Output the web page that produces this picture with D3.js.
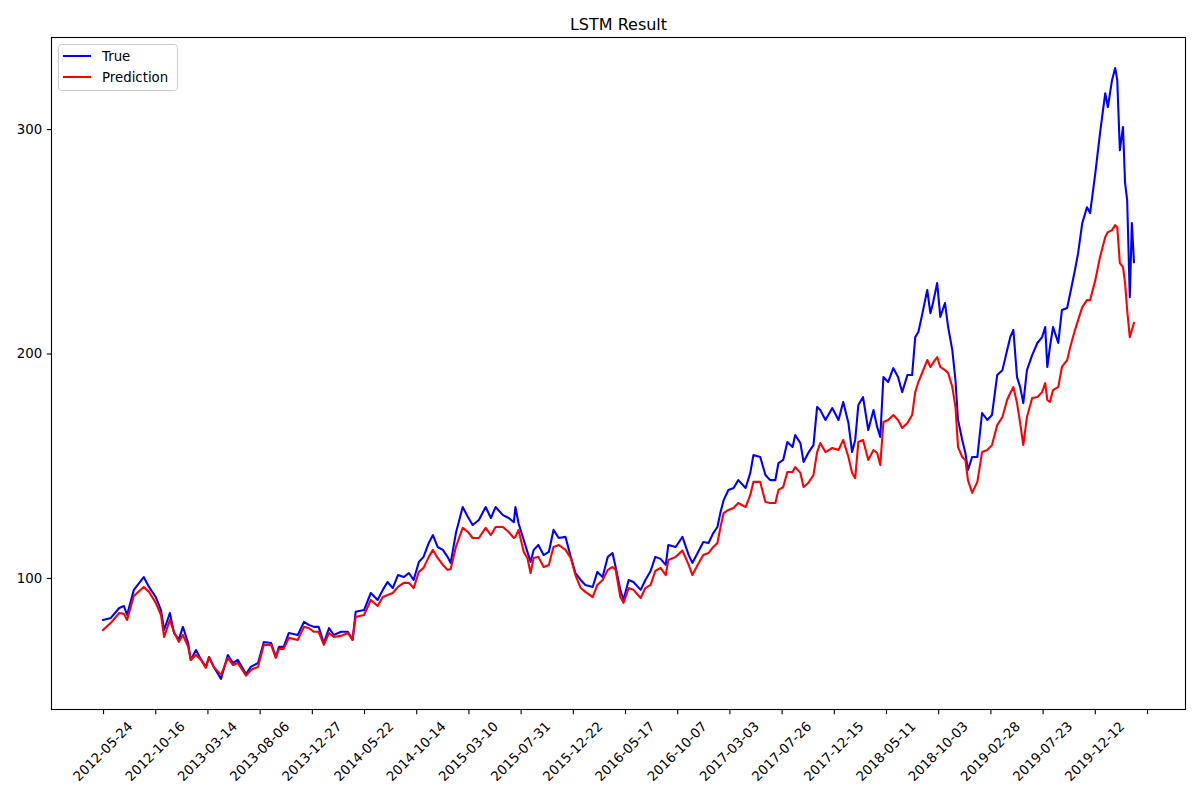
<!DOCTYPE html>
<html>
<head>
<meta charset="utf-8">
<script src="https://cdn.jsdelivr.net/npm/d3@7"></script>
<style>
  html, body { margin: 0; padding: 0; background: #fff; }
  svg { display: block; font-family: "DejaVu Sans", sans-serif; }
</style>
</head>
<body>
<svg id="chart" width="1200" height="800"></svg>
<script>
// ---- data (trading-day index) ----
const dayIndex = [0,15,31,40,46,59,78,88,101,111,117,128,136,145,153,163,168,178,188,197,203,212,226,239,249,258,274,283,297,308,322,331,337,346,356,373,385,394,404,413,423,433,442,456,469,478,484,500,513,526,536,545,555,565,576,586,595,605,614,624,632,641,651,660,666,676,689,699,708,720,733,743,752,766,777,787,790,796,806,813,819,825,834,844,854,863,873,886,896,905,915,924,938,947,957,967,976,982,991,997,1007,1016,1030,1039,1049,1058,1068,1078,1083,1097,1110,1122,1129,1139,1150,1160,1169,1177,1183,1189,1198,1208,1217,1231,1240,1246,1259,1269,1278,1288,1294,1303,1311,1321,1326,1336,1342,1351,1361,1368,1374,1384,1397,1409,1418,1428,1435,1441,1447,1456,1466,1476,1483,1489,1495,1504,1514,1523,1531,1541,1550,1556,1562,1569,1579,1585,1590,1598,1604,1613,1619,1627,1633,1638,1646,1652,1657,1665,1675,1684,1694,1703,1713,1723,1732,1738,1744,1751,1757,1763,1770,1780,1790,1799,1805,1809,1814,1820,1830,1837,1847,1853,1862,1868,1876,1885,1891,1901,1910,1920,1925,1933,1939,1943,1948,1954,1958,1962,1967,1971,1975];

const trueValues = [81.3,82.2,86.6,87.5,83.5,94.7,100.4,96.0,91.5,85.7,76.8,84.4,75.5,72.4,78.2,71.0,63.5,67.9,63.5,60.4,64.8,60.4,55.0,65.7,62.1,63.5,57.2,60.4,62.1,71.5,71.0,64.8,69.3,69.3,75.5,74.6,80.4,79.1,78.2,78.2,71.0,77.7,74.6,76.0,76.0,72.4,84.9,85.7,93.3,90.2,94.7,98.2,95.5,101.3,100.4,102.2,99.1,107.1,109.4,115.6,119.1,113.8,112.5,109.4,106.7,120.0,131.6,127.2,123.6,125.8,131.6,126.7,131.6,128.0,126.7,124.9,131.6,124.4,116.9,111.6,107.1,112.5,114.7,110.2,111.6,121.4,117.8,118.3,109.4,102.2,99.1,96.9,96.0,102.7,100.4,109.4,111.1,104.9,94.7,90.2,99.1,98.2,94.7,99.1,103.1,109.4,108.5,105.8,114.7,113.8,118.3,110.2,106.7,111.1,116.0,115.6,120.0,122.7,129.4,134.7,139.2,140.1,143.6,140.1,146.8,154.8,153.9,145.9,143.6,143.6,151.2,152.6,160.6,158.3,163.7,160.1,151.7,155.7,159.2,176.2,174.8,170.4,175.7,170.4,178.4,169.0,156.1,161.5,177.1,180.6,165.9,174.8,167.3,162.8,189.5,187.3,193.5,189.5,182.8,190.4,190.4,207.3,209.6,217.1,228.3,218.0,222.5,231.4,216.3,222.5,211.8,201.5,188.2,170.4,161.5,155.7,148.1,153.9,153.9,173.5,170.4,172.6,190.4,192.6,201.5,207.3,210.5,189.5,185.1,177.9,192.6,199.3,204.7,207.3,211.8,194.0,202.9,211.8,204.7,219.4,220.3,227.0,237.2,244.7,258.1,265.2,262.6,280.4,298.2,316.0,309.8,321.8,327.2,321.8,290.6,300.9,275.9,268.3,225.1,258.1,240.7];

const predValues = [76.8,80.0,84.4,84.0,81.3,92.0,96.0,93.8,88.9,83.5,73.7,81.3,76.0,71.5,74.6,69.3,63.5,65.7,63.5,59.9,64.8,60.4,56.8,64.4,61.2,62.1,56.5,59.0,60.4,70.2,70.2,64.4,68.4,68.4,73.3,72.4,78.2,77.7,76.0,76.0,70.2,75.5,73.7,74.2,75.5,72.4,82.6,83.5,90.2,87.5,91.5,92.4,93.3,96.0,97.8,97.8,95.5,102.7,104.5,109.4,112.5,108.9,105.8,103.6,104.0,113.8,122.3,120.5,117.8,117.8,122.3,119.1,122.7,122.7,120.5,117.8,118.3,121.4,111.6,108.9,102.2,108.9,109.4,104.9,105.8,113.8,114.7,112.5,108.9,101.3,95.5,93.8,91.5,96.9,99.1,103.6,104.9,103.6,91.5,88.9,95.5,94.7,91.1,95.5,96.9,103.1,104.5,101.3,108.0,109.4,112.2,105.8,101.3,105.8,110.2,111.1,113.8,115.6,122.7,128.9,130.3,131.2,133.4,131.6,137.0,142.8,142.8,133.8,133.4,133.4,139.2,140.5,147.2,147.2,149.4,146.8,140.5,142.3,145.9,156.1,160.1,156.1,157.9,157.0,161.5,153.9,146.8,144.5,160.6,161.5,152.6,157.0,155.7,150.3,169.5,170.4,172.6,170.4,166.8,169.0,172.6,182.8,187.3,191.3,197.1,194.0,195.8,198.4,194.0,192.6,191.3,185.1,176.2,158.3,153.9,152.6,143.6,137.9,142.8,156.1,157.0,159.2,168.1,171.7,179.3,182.4,185.1,177.9,169.0,159.2,171.7,180.2,180.6,182.8,186.8,179.3,178.4,183.7,185.1,194.0,197.1,202.9,210.5,214.9,220.7,223.8,223.8,232.7,243.0,251.9,254.1,255.0,257.2,256.3,240.3,238.5,231.4,219.4,207.3,210.5,213.6];

const tickIndex = [0,100,200,300,400,500,600,700,800,900,1000,1100,1200,1300,1400,1500,1600,1700,1800,1900,2000];
const tickLabels = ["2012-05-24","2012-10-16","2013-03-14","2013-08-06","2013-12-27","2014-05-22","2014-10-14","2015-03-10","2015-07-31","2015-12-22","2016-05-17","2016-10-07","2017-03-03","2017-07-26","2017-12-15","2018-05-11","2018-10-03","2019-02-28","2019-07-23","2019-12-12"];
const yTicks = [100, 200, 300];
const seriesNames = ["True", "Prediction"];
const seriesColors = ["#0000ff", "#ff0000"];

// ---- layout ----
const svg = d3.select("#chart");
const plotLeft = 51.5, plotRight = 1185.5, plotTop = 37.5, plotBottom = 709.5;
const tickLen = 4.67, tickPad = 4.67;
const fontSize = 13.33;

function padded(ext) {
  const d = (ext[1] - ext[0]) * 0.05;
  return [ext[0] - d, ext[1] + d];
}
const xExt = d3.extent(dayIndex);
const yExt = d3.extent(trueValues.concat(predValues));
const x = d3.scaleLinear().domain(padded(xExt)).range([plotLeft, plotRight]);
const y = d3.scaleLinear().domain(padded(yExt)).range([plotBottom, plotTop]);

// ---- lines ----
const line = d3.line().x((d, i) => x(dayIndex[i])).y(d => y(d));
[trueValues, predValues].forEach((vals, k) => {
  svg.append("path")
    .attr("d", line(vals))
    .attr("fill", "none")
    .attr("stroke", seriesColors[k])
    .attr("stroke-width", 2.08)
    .attr("stroke-linejoin", "round")
    .attr("stroke-linecap", "square");
});

// ---- axes frame ----
svg.append("rect")
  .attr("x", plotLeft).attr("y", plotTop)
  .attr("width", plotRight - plotLeft).attr("height", plotBottom - plotTop)
  .attr("fill", "none").attr("stroke", "#000").attr("stroke-width", 1.1);

// ---- x axis ----
const xAxis = d3.axisBottom(x).tickValues(tickIndex).tickSize(tickLen).tickFormat("");
const gx = svg.append("g").attr("transform", `translate(0,${plotBottom})`).call(xAxis);
gx.select(".domain").remove();
gx.selectAll(".tick line").attr("stroke", "#000").attr("stroke-width", 1.1);

const labelTop = plotBottom + tickLen + tickPad;
tickLabels.forEach((lab, i) => {
  const t = svg.append("text")
    .attr("font-size", fontSize)
    .attr("fill", "#000")
    .attr("text-anchor", "middle")
    .attr("dominant-baseline", "central")
    .text(lab);
  const bb = t.node().getBBox();
  const h = (bb.width + bb.height) * Math.SQRT1_2;
  t.attr("transform", `translate(${x(tickIndex[i])},${labelTop + h / 2}) rotate(-45)`);
});

// ---- y axis ----
const yAxis = d3.axisLeft(y).tickValues(yTicks).tickSize(tickLen).tickPadding(tickPad);
const gy = svg.append("g").attr("transform", `translate(${plotLeft},0)`).call(yAxis);
gy.select(".domain").remove();
gy.selectAll(".tick line").attr("stroke", "#000").attr("stroke-width", 1.1);
gy.selectAll(".tick text")
  .attr("font-size", fontSize)
  .attr("font-family", "DejaVu Sans, sans-serif")
  .attr("fill", "#000");

// ---- title ----
svg.append("text")
  .attr("x", (plotLeft + plotRight) / 2)
  .attr("y", plotTop - 8)
  .attr("text-anchor", "middle")
  .attr("font-size", 16)
  .attr("fill", "#000")
  .text("LSTM Result");

// ---- legend ----
const lg = svg.append("g");
lg.append("rect")
  .attr("x", 58.5).attr("y", 44.5)
  .attr("width", 119).attr("height", 46)
  .attr("rx", 3).attr("ry", 3)
  .attr("fill", "#fff").attr("fill-opacity", 0.8)
  .attr("stroke", "#cccccc").attr("stroke-width", 1);
seriesNames.forEach((name, k) => {
  const yy = 56 + k * 21;
  lg.append("line")
    .attr("x1", 63).attr("x2", 91)
    .attr("y1", yy).attr("y2", yy)
    .attr("stroke", seriesColors[k]).attr("stroke-width", 2.08);
  lg.append("text")
    .attr("x", 102).attr("y", yy)
    .attr("dominant-baseline", "central")
    .attr("font-size", fontSize)
    .attr("fill", "#000")
    .text(name);
});
</script>
</body>
</html>
